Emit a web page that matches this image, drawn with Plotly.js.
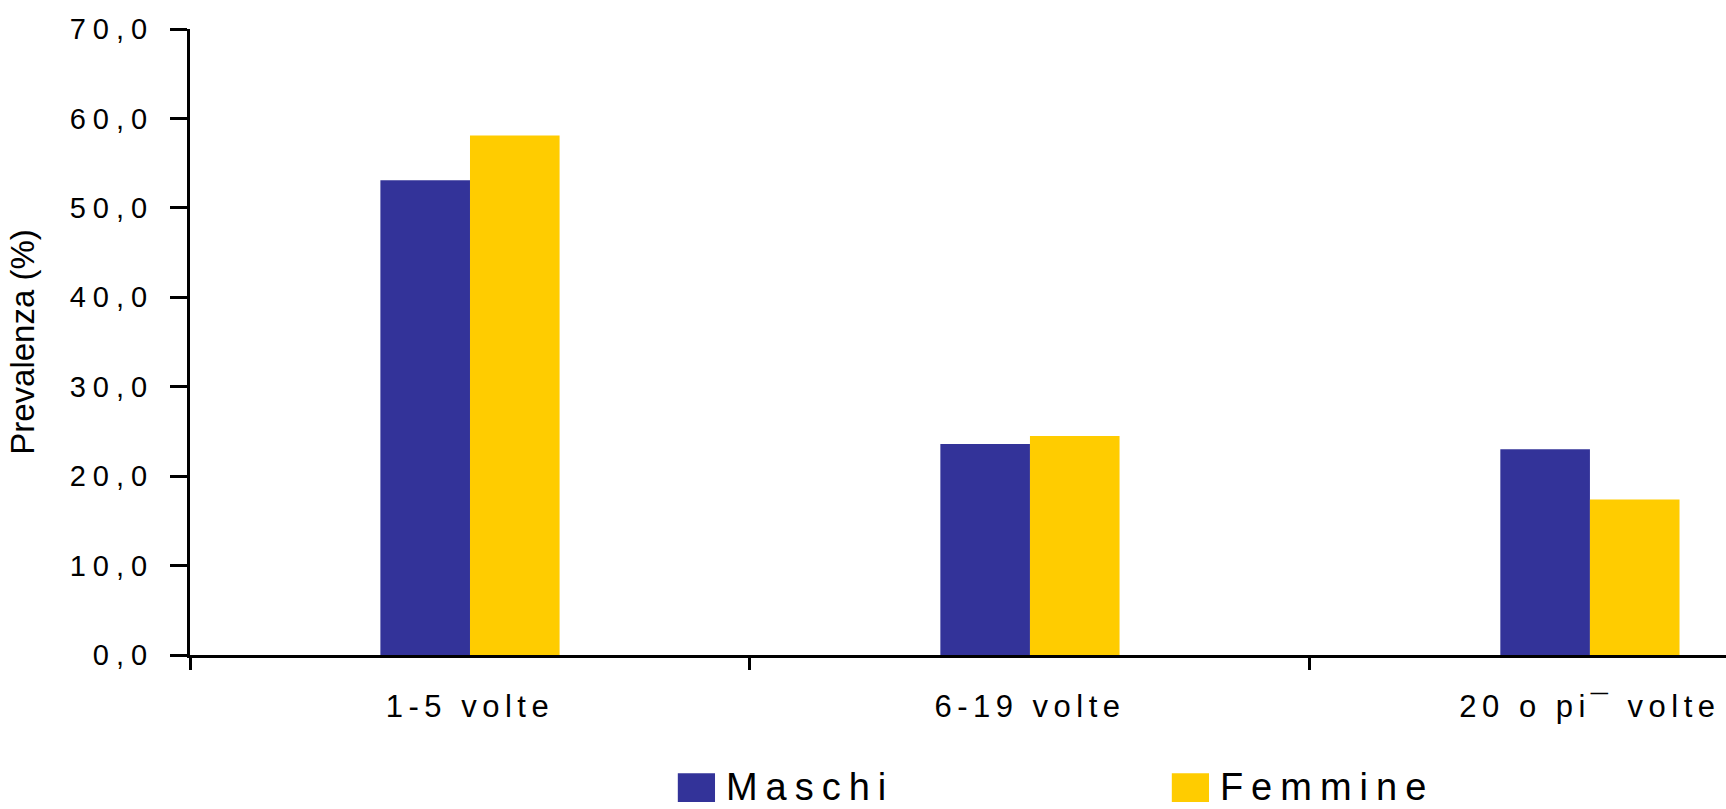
<!DOCTYPE html>
<html>
<head>
<meta charset="utf-8">
<script src="https://cdn.plot.ly/plotly-3.0.1.min.js"></script>
<style>
  html, body { margin: 0; padding: 0; background: #fff; overflow: hidden; }
  #chart { width: 1726px; height: 809px; }
  .ytick text { letter-spacing: 7px; }
  .xtick text { letter-spacing: 5.5px; }
  .legendtext { letter-spacing: 8px; }
  .legendpoints path { transform: translate(19.5px, 2px) scale(3.1, 2.4); }
</style>
</head>
<body>
<div id="chart"></div>
<script>
const categories = ["1-5 volte", "6-19 volte", "20 o pi\u00AF volte"];
const maschi = [53.1, 23.6, 23.0];
const femmine = [58.1, 24.5, 17.4];
const yTickVals = [0, 10, 20, 30, 40, 50, 60, 70];
const yTickText = ["0,0", "10,0", "20,0", "30,0", "40,0", "50,0", "60,0", "70,0"];

const FONT = "Liberation Sans, Arial, sans-serif";

const data = [
  { type: "bar", name: "Maschi", x: categories, y: maschi,
    marker: { color: "#333399", line: { width: 0 } }, hoverinfo: "none" },
  { type: "bar", name: "Femmine", x: categories, y: femmine,
    marker: { color: "#FFCC00", line: { width: 0 } }, hoverinfo: "none" }
];

const layout = {
  width: 1726, height: 809,
  margin: { l: 190, r: 0, t: 29, b: 154, pad: 0, autoexpand: false },
  paper_bgcolor: "#ffffff", plot_bgcolor: "#ffffff",
  font: { family: FONT, color: "#000000", size: 30 },
  barmode: "group", bargap: 0.68, bargroupgap: 0,
  showlegend: true,
  legend: {
    orientation: "h", x: 0.317, xanchor: "left", y: -0.209, yanchor: "middle",
    font: { family: FONT, size: 38, color: "#000" },
    itemwidth: 39,
    entrywidth: 440, entrywidthmode: "pixels", traceorder: "normal"
  },
  xaxis: {
    type: "category", range: [-0.5, 2.243], tickson: "boundaries",
    ticks: "outside", ticklen: 12, tickwidth: 3, tickcolor: "#000",
    showline: true, linecolor: "#000", linewidth: 3,
    showgrid: false, zeroline: false,
    tickfont: { family: FONT, size: 31, color: "#000" },
    ticklabelstandoff: 22,
    fixedrange: true
  },
  yaxis: {
    range: [0, 70], tickvals: yTickVals, ticktext: yTickText,
    ticks: "outside", ticklen: 17, tickwidth: 3, tickcolor: "#000",
    showline: true, linecolor: "#000", linewidth: 3,
    showgrid: false, zeroline: false,
    tickfont: { family: FONT, size: 29, color: "#000" },
    ticklabelstandoff: 10,
    title: { text: "Prevalenza (%)", font: { family: FONT, size: 33, color: "#000" }, standoff: 26 },
    fixedrange: true
  }
};

Plotly.newPlot("chart", data, layout, { displayModeBar: false, staticPlot: true });
</script>
</body>
</html>
